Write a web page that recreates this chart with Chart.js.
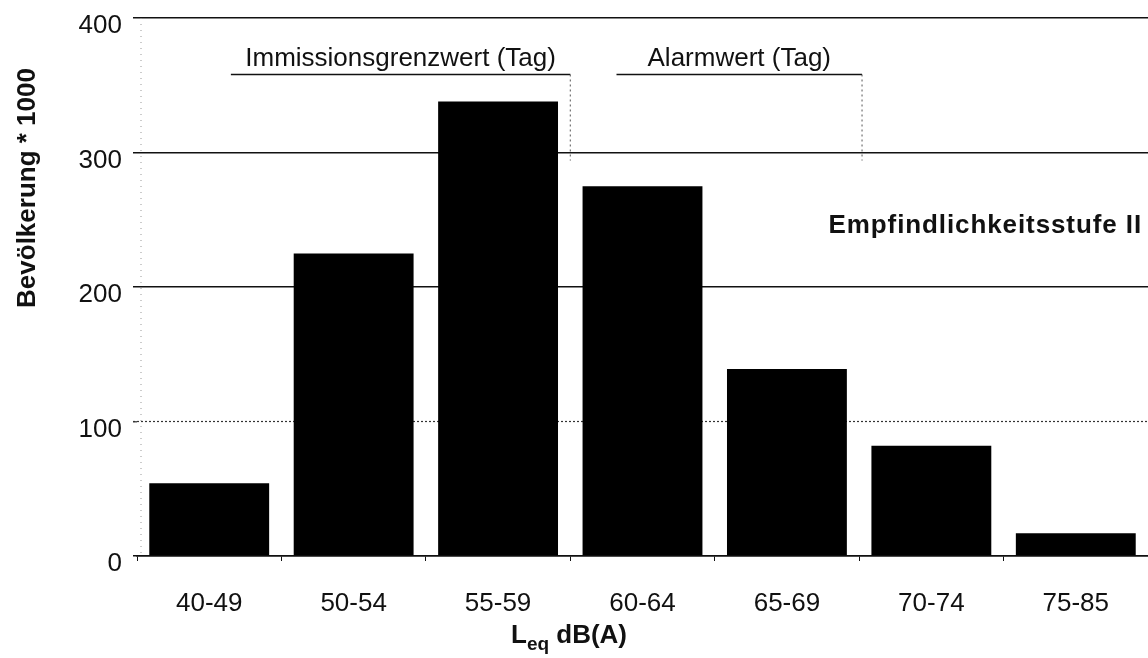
<!DOCTYPE html>
<html>
<head>
<meta charset="utf-8">
<script src="https://cdn.jsdelivr.net/npm/chart.js@4/dist/chart.umd.min.js"></script>
<style>
  html, body { margin: 0; padding: 0; background: #fff; }
  #rahmen { width: 1148px; height: 658px; position: relative; }
</style>
</head>
<body>
<div id="rahmen"><canvas id="grafico"></canvas></div>
<script>
// Daten: Bevölkerung (in Tausend) je Lärmklasse Leq dB(A)
const klassen = ['40-49', '50-54', '55-59', '60-64', '65-69', '70-74', '75-85'];
const bevoelkerung = [54, 225, 338, 275, 139, 82, 17];
const yWerte = [0, 100, 200, 300, 400];

// Beschriftungen oben im Diagramm
const hinweisTexte = ['Immissionsgrenzwert (Tag)', 'Alarmwert (Tag)'];
const stufeText = 'Empfindlichkeitsstufe II';
const yTitel = 'Bevölkerung * 1000';

const schrift = "'Liberation Sans', Arial, Helvetica, sans-serif";
const dunkel = '#111';

// Zeichnet Hinweislinien, gepunktete 100er-Linie und Titel
const zusatz = {
  id: 'zusatz',
  beforeDatasetsDraw(chart) {
    const { ctx, chartArea, scales } = chart;
    const y = scales.y.getPixelForValue(100);
    ctx.save();
    ctx.strokeStyle = '#333';
    ctx.lineWidth = 1.2;
    ctx.setLineDash([2, 2]);
    ctx.beginPath();
    ctx.moveTo(chartArea.left - 4, y);
    ctx.lineTo(chartArea.right, y);
    ctx.stroke();
    // schwache gepunktete y-Achse
    ctx.strokeStyle = '#999';
    ctx.lineWidth = 1;
    ctx.setLineDash([1, 5]);
    ctx.beginPath();
    ctx.moveTo(chartArea.left + 4, chartArea.top);
    ctx.lineTo(chartArea.left + 4, chartArea.bottom);
    ctx.stroke();
    ctx.restore();
  },
  afterDraw(chart) {
    const { ctx, scales } = chart;
    const x = scales.x, y = scales.y;
    const yLinie = y.getPixelForValue(358);
    const yEnde = y.getPixelForValue(294);
    // [start, ende] in Kategorie-Einheiten
    const bereiche = [[0.15, 2.5], [2.82, 4.52]];

    ctx.save();
    ctx.fillStyle = dunkel;
    ctx.strokeStyle = dunkel;
    ctx.font = '26px ' + schrift;
    ctx.textAlign = 'center';
    ctx.textBaseline = 'alphabetic';
    bereiche.forEach((b, i) => {
      const x1 = x.getPixelForValue(b[0]);
      const x2 = x.getPixelForValue(b[1]);
      ctx.lineWidth = 1.5;
      ctx.setLineDash([]);
      ctx.beginPath();
      ctx.moveTo(x1, yLinie);
      ctx.lineTo(x2, yLinie);
      ctx.stroke();
      ctx.lineWidth = 1;
      ctx.setLineDash([2, 3]);
      ctx.strokeStyle = '#555';
      ctx.beginPath();
      ctx.moveTo(x2, yLinie);
      ctx.lineTo(x2, yEnde);
      ctx.stroke();
      ctx.strokeStyle = dunkel;
      ctx.fillText(hinweisTexte[i], (x1 + x2) / 2, yLinie - 8);
    });

    // Empfindlichkeitsstufe
    ctx.font = 'bold 26px ' + schrift;
    ctx.letterSpacing = '0.9px';
    ctx.textAlign = 'right';
    ctx.fillText(stufeText, 1142, 233);
    ctx.letterSpacing = '0px';

    // y-Achsentitel
    ctx.save();
    ctx.translate(35, 188);
    ctx.rotate(-Math.PI / 2);
    ctx.textAlign = 'center';
    ctx.font = 'bold 26px ' + schrift;
    ctx.fillText(yTitel, 0, 0);
    ctx.restore();

    // x-Achsentitel L_eq dB(A)
    ctx.textAlign = 'left';
    let px = 511;
    const basis = 643;
    ctx.font = 'bold 26px ' + schrift;
    ctx.fillText('L', px, basis);
    px += ctx.measureText('L').width;
    ctx.font = 'bold 19px ' + schrift;
    ctx.fillText('eq', px, basis + 7);
    px += ctx.measureText('eq').width;
    ctx.font = 'bold 26px ' + schrift;
    ctx.fillText(' dB(A)', px, basis);
    ctx.restore();
  }
};

new Chart(document.getElementById('grafico'), {
  type: 'bar',
  data: {
    labels: klassen,
    datasets: [{
      data: bevoelkerung,
      backgroundColor: '#000',
      borderWidth: 0,
      barPercentage: 0.83,
      categoryPercentage: 1
    }]
  },
  options: {
    responsive: true,
    maintainAspectRatio: false,
    animation: false,
    layout: { padding: { top: 18, left: 0, right: 0, bottom: 0 } },
    plugins: { legend: { display: false }, tooltip: { enabled: false } },
    scales: {
      x: {
        afterFit(s) { s.height = 102; s.paddingLeft = 0; s.paddingRight = 0; },
        grid: {
          drawOnChartArea: false,
          tickLength: 5,
          tickColor: dunkel,
          tickWidth: 1
        },
        border: { display: true, color: dunkel, width: 1.5 },
        ticks: {
          color: dunkel,
          padding: 27,
          font: { family: schrift, size: 26 }
        }
      },
      y: {
        min: 0,
        max: 400,
        afterFit(s) { s.width = 137; s.paddingTop = 0; s.paddingBottom = 0; },
        afterBuildTicks(s) { s.ticks = yWerte.map(v => ({ value: v })); },
        grid: {
          color: c => (c.tick && c.tick.value === 100) ? 'rgba(0,0,0,0)' : dunkel,
          lineWidth: 1.5,
          tickLength: 4,
          tickColor: c => (c.tick && c.tick.value === 100) ? '#555' : dunkel
        },
        border: { display: false },
        ticks: {
          color: dunkel,
          padding: 11,
          labelOffset: 8,
          font: { family: schrift, size: 26 }
        }
      }
    }
  },
  plugins: [zusatz]
});
</script>
</body>
</html>
